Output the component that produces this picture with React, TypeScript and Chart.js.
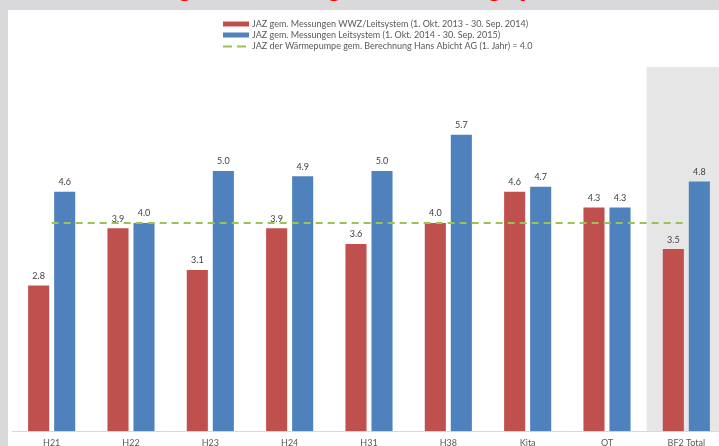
import React, { useEffect, useRef } from "react";
import { Chart, registerables } from "chart.js";

Chart.register(...registerables);

const categories = ["H21", "H22", "H23", "H24", "H31", "H38", "Kita", "OT", "BF2 Total"];
const jaz2014 = [2.8, 3.9, 3.1, 3.9, 3.6, 4.0, 4.6, 4.3, 3.5];
const jaz2015 = [4.6, 4.0, 5.0, 4.9, 5.0, 5.7, 4.7, 4.3, 4.8];
const jazTarget = [4.0, 4.0, 4.0, 4.0, 4.0, 4.0, 4.0, 4.0, 4.0];
const legendLabels = [
  "JAZ gem. Messungen WWZ/Leitsystem (1. Okt. 2013 - 30. Sep. 2014)",
  "JAZ gem. Messungen Leitsystem (1. Okt. 2014 - 30. Sep. 2015)",
  "JAZ der Wärmepumpe gem. Berechnung Hans Abicht AG (1. Jahr) = 4.0",
];
const titleText = "Vergleich JAZ gemessen / geplant";

const RED = "#c0504d";
const BLUE = "#4f81bd";
const GREEN = "#9bc255";
const FONT = "Lato";

const shadePlugin = {
  id: "shadeTotal",
  beforeDatasetsDraw(chart: any) {
    const x = chart.scales.x;
    const area = chart.chartArea;
    const half = (x.getPixelForValue(1) - x.getPixelForValue(0)) / 2;
    const left = x.getPixelForValue(categories.length - 1) - half;
    const ctx = chart.ctx;
    ctx.save();
    ctx.fillStyle = "#e6e6e6";
    ctx.fillRect(left, area.top, chart.width - left, area.bottom - area.top);
    ctx.restore();
  },
};

const valueLabelPlugin = {
  id: "valueLabels",
  afterDatasetsDraw(chart: any) {
    const ctx = chart.ctx;
    ctx.save();
    ctx.font = `9px ${FONT}`;
    ctx.fillStyle = "#404040";
    ctx.textAlign = "center";
    ctx.textBaseline = "bottom";
    chart.data.datasets.forEach((ds: any, i: number) => {
      if (ds.type === "line") return;
      const meta = chart.getDatasetMeta(i);
      meta.data.forEach((el: any, j: number) => {
        ctx.fillText(Number(ds.data[j]).toFixed(1), el.x, el.y - 5);
      });
    });
    ctx.restore();
  },
};

const legendPlugin = {
  id: "customLegend",
  afterDraw(chart: any) {
    const ctx = chart.ctx;
    ctx.save();
    const x0 = 215;
    const rows = [14, 25, 36.5];
    ctx.font = `9px ${FONT}`;
    ctx.textBaseline = "middle";
    ctx.textAlign = "left";
    legendLabels.forEach((label, i) => {
      const y = rows[i];
      if (i < 2) {
        ctx.fillStyle = i === 0 ? RED : BLUE;
        ctx.fillRect(x0, y - 2.5, 26, 5);
      } else {
        ctx.strokeStyle = GREEN;
        ctx.lineWidth = 2;
        ctx.setLineDash([9, 5]);
        ctx.beginPath();
        ctx.moveTo(x0, y);
        ctx.lineTo(x0 + 26, y);
        ctx.stroke();
        ctx.setLineDash([]);
      }
      ctx.fillStyle = "#595959";
      ctx.fillText(label, x0 + 29, y);
    });
    ctx.restore();
  },
};

export default function App() {
  const ref = useRef<HTMLCanvasElement>(null);

  useEffect(() => {
    if (!ref.current) return;
    const chart = new Chart(ref.current, {
      type: "bar",
      data: {
        labels: categories,
        datasets: [
          {
            type: "line",
            label: legendLabels[2],
            data: jazTarget,
            borderColor: GREEN,
            borderWidth: 2,
            borderDash: [7, 5],
            pointRadius: 0,
            fill: false,
            order: 0,
          } as any,
          {
            label: legendLabels[0],
            data: jaz2014,
            backgroundColor: RED,
            categoryPercentage: 0.656,
            barPercentage: 0.81,
            order: 1,
          },
          {
            label: legendLabels[1],
            data: jaz2015,
            backgroundColor: BLUE,
            categoryPercentage: 0.656,
            barPercentage: 0.81,
            order: 1,
          },
        ],
      },
      options: {
        responsive: false,
        animation: false,
        devicePixelRatio: 1,
        layout: { padding: { left: 4, right: 22, top: 57, bottom: 16 } },
        plugins: {
          legend: { display: false },
          tooltip: { enabled: false },
          title: { display: false },
        },
        scales: {
          x: {
            grid: { display: false, drawTicks: false },
            border: { display: true, color: "#d9d9d9", width: 1 },
            ticks: {
              color: "#595959",
              font: { family: FONT, size: 9 },
              padding: 6,
              maxRotation: 0,
              autoSkip: false,
            },
          },
          y: {
            display: false,
            min: 0,
            max: 7,
          },
        },
      },
      plugins: [shadePlugin, valueLabelPlugin, legendPlugin],
    });
    return () => chart.destroy();
  }, []);

  return (
    <div
      style={{
        position: "fixed",
        left: 0,
        top: 0,
        width: 719,
        height: 446,
        overflow: "hidden",
        background: "#d9d9db",
      }}
    >
      <div
        style={{
          position: "absolute",
          left: 0,
          right: 0,
          top: -30,
          textAlign: "center",
          color: "#ff0000",
          font: 'bold 28px "Liberation Sans"',
          lineHeight: "32px",
          whiteSpace: "nowrap",
        }}
      >
        {titleText}
      </div>
      <div
        style={{
          position: "absolute",
          left: 8,
          top: 10,
          width: 740,
          height: 460,
          background: "#ffffff",
        }}
      >
        <canvas ref={ref} width={740} height={460} style={{ display: "block", width: 740, height: 460 }} />
      </div>
    </div>
  );
}
